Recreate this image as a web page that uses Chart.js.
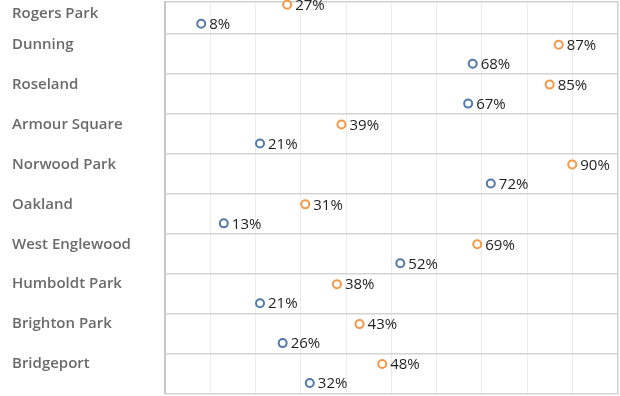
<!DOCTYPE html>
<html>
<head>
<meta charset="utf-8">
<script src="https://cdn.jsdelivr.net/npm/chart.js@4.4.1/dist/chart.umd.min.js"></script>
<style>
  html, body { margin: 0; padding: 0; background: #ffffff; }
  #wrap { width: 620px; height: 396px; }
</style>
</head>
<body>
<div id="wrap"><canvas id="c" width="620" height="396"></canvas></div>
<script>
// ---- data ----
const categories = ["Rogers Park", "Dunning", "Roseland", "Armour Square", "Norwood Park",
                    "Oakland", "West Englewood", "Humboldt Park", "Brighton Park", "Bridgeport"];
const orangeValues = [27, 87, 85, 39, 90, 31, 69, 38, 43, 48];
const blueValues   = [8, 68, 67, 21, 72, 13, 52, 21, 26, 32];
const xTicks = [0, 10, 20, 30, 40, 50, 60, 70, 80, 90, 100];

const ORANGE = '#f2994a';
const BLUE = '#5279a8';
const ROW_SHIFT = 0.238;

const rowIdx = categories.map((_, i) => i);
// first label pushed down a little (it is clipped at the top of the view)
const labelTickVals = rowIdx.map(i => i === 0 ? 0.22 : i);
const sepTickVals = rowIdx.map(i => i + 0.5);

const noPad = s => { s.paddingTop = 0; s.paddingBottom = 0; s.paddingLeft = 0; s.paddingRight = 0; };

const valueLabels = {
  id: 'valueLabels',
  afterDatasetsDraw(chart) {
    const ctx = chart.ctx;
    ctx.save();
    ctx.font = '15px "Open Sans"';
    ctx.fillStyle = '#1f1f1f';
    ctx.textAlign = 'left';
    ctx.textBaseline = 'middle';
    chart.data.datasets.forEach((ds, di) => {
      const meta = chart.getDatasetMeta(di);
      meta.data.forEach((el, i) => {
        ctx.fillText(ds.data[i].x + '%', el.x + 8, el.y + 1);
      });
    });
    ctx.restore();
  }
};

new Chart(document.getElementById('c'), {
  type: 'scatter',
  data: {
    datasets: [
      {
        label: 'Orange',
        data: orangeValues.map((v, i) => ({ x: v, y: i - ROW_SHIFT })),
        borderColor: ORANGE,
        backgroundColor: '#ffffff',
        borderWidth: 2,
        pointRadius: 4,
        pointHoverRadius: 4,
        yAxisID: 'y'
      },
      {
        label: 'Blue',
        data: blueValues.map((v, i) => ({ x: v, y: i + ROW_SHIFT })),
        borderColor: BLUE,
        backgroundColor: '#ffffff',
        borderWidth: 2,
        pointRadius: 4,
        pointHoverRadius: 4,
        yAxisID: 'y'
      }
    ]
  },
  options: {
    responsive: false,
    animation: false,
    devicePixelRatio: 1,
    clip: false,
    layout: { autoPadding: false, padding: { left: 12, right: 2.5, top: 1.5, bottom: 2.5 } },
    plugins: {
      legend: { display: false },
      tooltip: { enabled: false }
    },
    scales: {
      x: {
        type: 'linear',
        position: 'top',
        min: 0,
        max: 100,
        afterBuildTicks: s => { s.ticks = xTicks.map(v => ({ value: v })); },
        ticks: { display: false },
        grid: { color: '#ececec', lineWidth: 1, drawTicks: false },
        border: { display: true, color: '#d0d0d0', width: 1.5 },
        afterFit: s => { s.height = 0; noPad(s); }
      },
      y: {
        type: 'linear',
        position: 'left',
        reverse: true,
        min: -0.32,
        max: 9.5,
        afterBuildTicks: s => { s.ticks = labelTickVals.map(v => ({ value: v })); },
        ticks: {
          callback: (v, i) => categories[i],
          crossAlign: 'far',
          labelOffset: -9.5,
          padding: 0,
          color: '#6a6a6a',
          font: { family: 'Open Sans', size: 15, weight: '600' }
        },
        grid: { color: 'rgba(0,0,0,0)', drawTicks: false },
        border: { display: true, color: '#c8c8c8', width: 2 },
        afterFit: s => { s.width = 153; noPad(s); }
      },
      yg: {
        type: 'linear',
        position: 'right',
        reverse: true,
        min: -0.32,
        max: 9.5,
        afterBuildTicks: s => { s.ticks = sepTickVals.map(v => ({ value: v })); },
        ticks: { display: false },
        grid: { color: '#d4d4d4', lineWidth: 1.5, drawTicks: false },
        border: { display: true, color: '#d0d0d0', width: 1.5 },
        afterFit: s => { s.width = 0; noPad(s); }
      }
    }
  },
  plugins: [valueLabels]
});
</script>
</body>
</html>
